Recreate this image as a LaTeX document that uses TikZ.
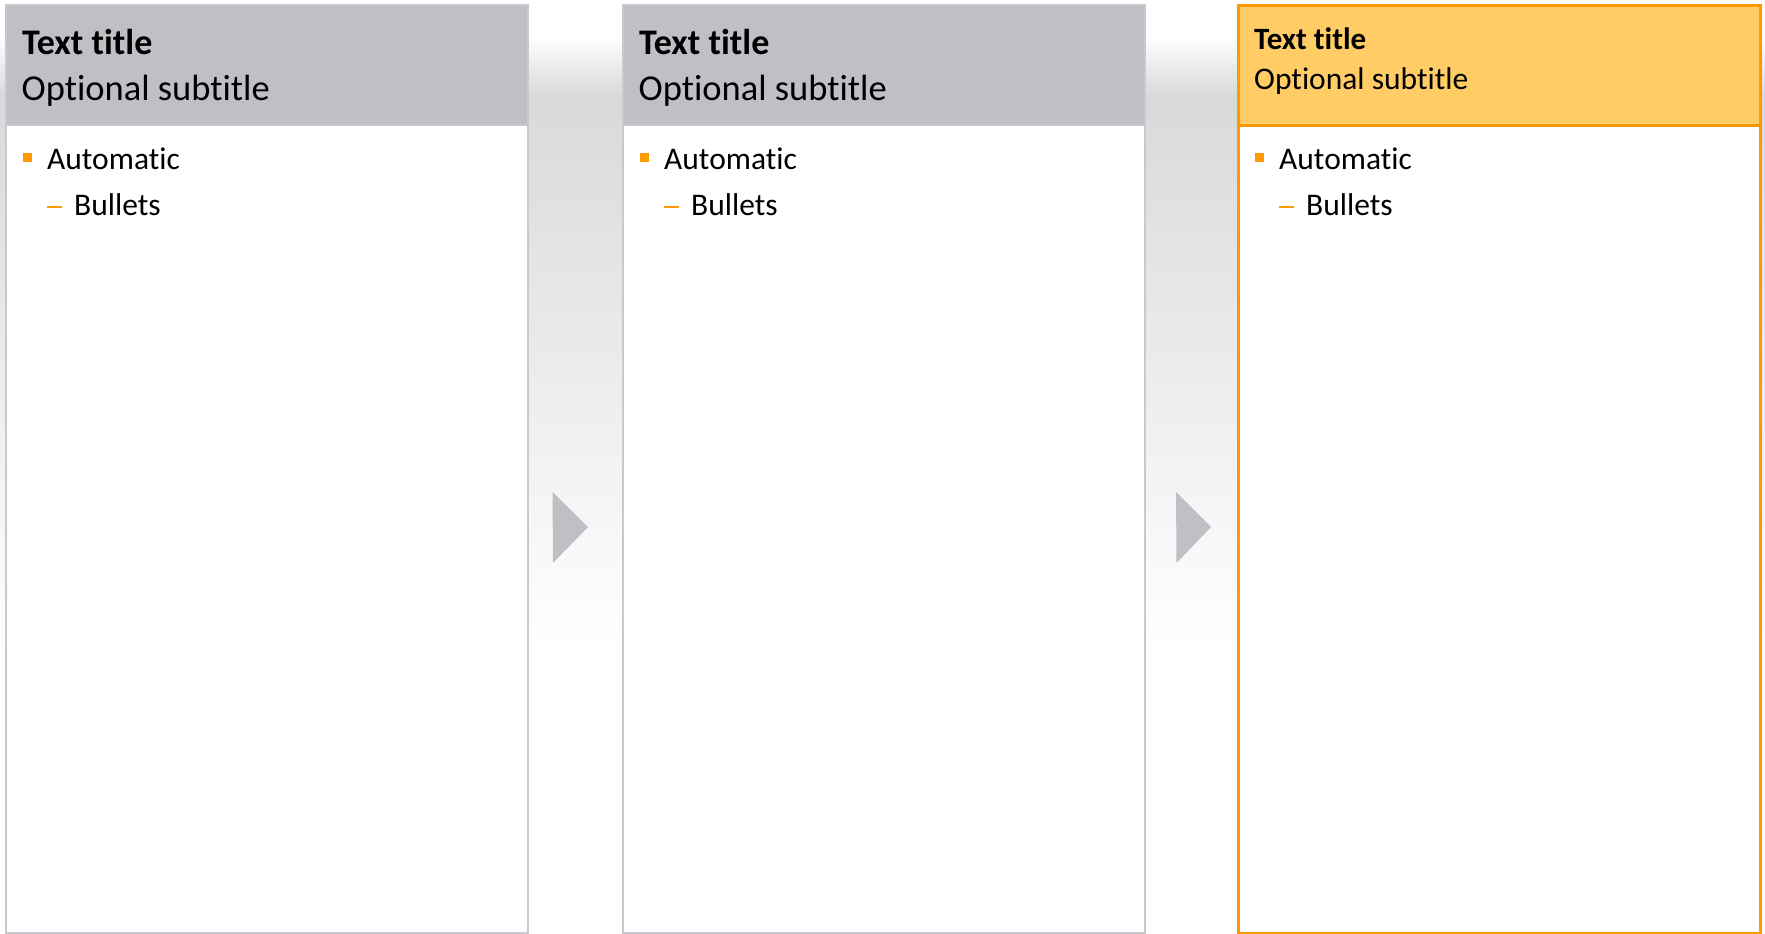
\documentclass[tikz,border=0pt]{standalone}
\usepackage{fontspec}
\setmainfont{Carlito}[Ligatures=NoCommon]
\begin{document}
\begin{tikzpicture}[x=1pt,y=-1pt,
  panel/.style={draw=boxgray, line width=2pt, fill=white, anchor=north west, inner sep=0pt},
  panelhot/.style={draw=hotorange, line width=2.6pt, fill=white, anchor=north west, inner sep=0pt},
  headgray/.style={draw=boxgray, line width=2pt, fill=headfill, anchor=north west, inner sep=0pt},
  headhot/.style={draw=hotorange, line width=2.6pt, fill=hotfill, anchor=north west, inner sep=0pt},
  titlebig/.style={anchor=base west, inner sep=0pt, font=\fontsize{36}{40}\selectfont\bfseries},
  subbig/.style={anchor=base west, inner sep=0pt, font=\fontsize{36.5}{40}\selectfont},
  titlesmall/.style={anchor=base west, inner sep=0pt, font=\fontsize{31}{36}\selectfont\bfseries},
  subsmall/.style={anchor=base west, inner sep=0pt, font=\fontsize{31.5}{36}\selectfont},
  itemtext/.style={anchor=base west, inner sep=0pt, font=\fontsize{31.5}{36}\selectfont},
  bulletsq/.style={fill=hotorange, draw=none, minimum width=9pt, minimum height=9pt, inner sep=0pt, anchor=north west},
  bulletdash/.style={draw=hotorange, line width=2.8pt},
  tri/.style={fill=headfill, draw=none}
]
\definecolor{boxgray}{RGB}{200,201,206}
\definecolor{headfill}{RGB}{191,192,197}
\definecolor{hotorange}{RGB}{255,153,0}
\definecolor{hotfill}{RGB}{255,204,102}
\definecolor{bandgray}{RGB}{217,217,217}
\useasboundingbox (0,0) rectangle (1765,934);
\fill[white] (0,0) rectangle (1765,934);
% background band
\shade[top color=white, bottom color=bandgray] (0,36) rectangle (1765,95.5);
\shade[top color=bandgray, bottom color=white] (0,95) rectangle (1765,650);

% panels
\foreach \n/\x in {1/4.5, 2/621.5} {
  \node[panel, minimum width=522pt, minimum height=927.5pt] (box\n) at (\x,4.5) {};
  \node[headgray, minimum width=522pt, minimum height=119.5pt] (head\n) at (\x,4.5) {};
  \node[titlebig] (title\n) at (\x+17.5,55) {Text title};
  \node[subbig] (sub\n) at (\x+17,100) {Optional subtitle};
  \node[bulletsq] (sq\n) at (\x+18,153) {};
  \node[itemtext] (auto\n) at (\x+42.5,169) {Automatic};
  \coordinate (da\n) at (\x+42,207);
  \coordinate (db\n) at (\x+57,207);
  \draw[bulletdash] (da\n) -- (db\n);
  \node[itemtext] (bul\n) at (\x+69.5,215) {Bullets};
}
% third panel (highlighted)
\node[panelhot, minimum width=522pt, minimum height=927.5pt] (box3) at (1237,4.5) {};
\node[headhot, minimum width=522pt, minimum height=119.5pt] (head3) at (1237,4.5) {};
\node[titlesmall] (title3) at (1254,50) {Text title};
\node[subsmall] (sub3) at (1254,89) {Optional subtitle};
\node[bulletsq] (sq3) at (1254.5,153) {};
\node[itemtext] (auto3) at (1279,169) {Automatic};
\coordinate (da3) at (1278.5,207);
\coordinate (db3) at (1293.5,207);
\draw[bulletdash] (da3) -- (db3);
\node[itemtext] (bul3) at (1306,215) {Bullets};

% arrows
\coordinate (t1a) at (552.5,492);
\coordinate (t1b) at (588,527);
\coordinate (t1c) at (553,563);
\fill[tri] (t1a) -- (t1b) -- (t1c) -- cycle;
\coordinate (t2a) at (1176,492);
\coordinate (t2b) at (1211,527);
\coordinate (t2c) at (1176.5,563);
\fill[tri] (t2a) -- (t2b) -- (t2c) -- cycle;
\end{tikzpicture}
\end{document}
